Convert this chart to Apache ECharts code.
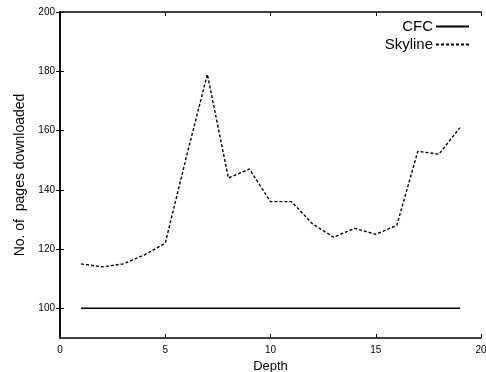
<!DOCTYPE html>
<html>
<head>
<meta charset="utf-8">
<script src="https://cdn.jsdelivr.net/npm/echarts@6/dist/echarts.min.js"></script>
<style>
  html, body { margin: 0; padding: 0; background: #fff; }
  #chart { width: 486px; height: 372px; }
</style>
</head>
<body>
<div id="chart"></div>
<script>
const depth = [1, 2, 3, 4, 5, 6, 7, 8, 9, 10, 11, 12, 13, 14, 15, 16, 17, 18, 19];
const cfc = [100, 100, 100, 100, 100, 100, 100, 100, 100, 100, 100, 100, 100, 100, 100, 100, 100, 100, 100];
const skyline = [115, 114, 115, 118, 122, 151, 179, 144, 147, 136, 136, 128.5, 124, 127, 125, 128, 153, 152, 161];
const yTicks = [100, 120, 140, 160, 180, 200];

const font = "Liberation Sans, Arial, sans-serif";
const pairs = (ys) => depth.map((d, i) => [d, ys[i]]);

const chart = echarts.init(document.getElementById("chart"));
const tickStyle = { show: true, inside: true, length: 4, lineStyle: { color: "#000", width: 1 } };
const lineStyle = { show: true, lineStyle: { color: "#000", width: 1.5 } };

chart.setOption({
  animation: false,
  grid: { left: 60, right: 5, top: 12, bottom: 34, outerBoundsMode: "none", containLabel: false },
  legend: {
    orient: "vertical",
    right: 11,
    top: 14,
    align: "right",
    itemWidth: 33,
    itemHeight: 10,
    itemGap: 3,
    itemStyle: { opacity: 0 },
    textStyle: { fontFamily: font, fontSize: 15, color: "#000", padding: [0, -2, 0, 0] },
    data: ["CFC", "Skyline"],
  },
  xAxis: [
    {
      type: "value",
      min: 0,
      max: 20,
      interval: 5,
      name: "Depth",
      nameLocation: "middle",
      nameGap: 19,
      nameTextStyle: { fontFamily: font, fontSize: 13, color: "#000" },
      axisLine: lineStyle,
      axisTick: tickStyle,
      splitLine: { show: false },
      axisLabel: { fontFamily: font, fontSize: 10, color: "#000", margin: 7 },
    },
    {
      type: "value",
      position: "top",
      min: 0,
      max: 20,
      interval: 5,
      axisLine: lineStyle,
      axisTick: tickStyle,
      splitLine: { show: false },
      axisLabel: { show: false },
    },
  ],
  yAxis: [
    {
      type: "value",
      min: 90,
      max: 200,
      name: "No. of  pages downloaded",
      nameLocation: "middle",
      nameGap: 33,
      nameTextStyle: { fontFamily: font, fontSize: 14, color: "#000" },
      axisLine: lineStyle,
      axisTick: Object.assign({}, tickStyle, { customValues: yTicks }),
      splitLine: { show: false },
      axisLabel: { fontFamily: font, fontSize: 10, color: "#000", margin: 5, customValues: yTicks },
    },
    {
      type: "value",
      position: "right",
      min: 90,
      max: 200,
      axisLine: lineStyle,
      axisTick: Object.assign({}, tickStyle, { customValues: yTicks }),
      splitLine: { show: false },
      axisLabel: { show: false, customValues: yTicks },
    },
  ],
  series: [
    {
      name: "CFC",
      type: "line",
      data: pairs(cfc),
      symbol: "none",
      lineStyle: { color: "#000", width: 1.5, type: "solid" },
      itemStyle: { color: "#000" },
    },
    {
      name: "Skyline",
      type: "line",
      data: pairs(skyline),
      symbol: "none",
      lineStyle: { color: "#000", width: 1.4, type: [3, 2] },
      itemStyle: { color: "#000" },
    },
  ],
});
</script>
</body>
</html>
